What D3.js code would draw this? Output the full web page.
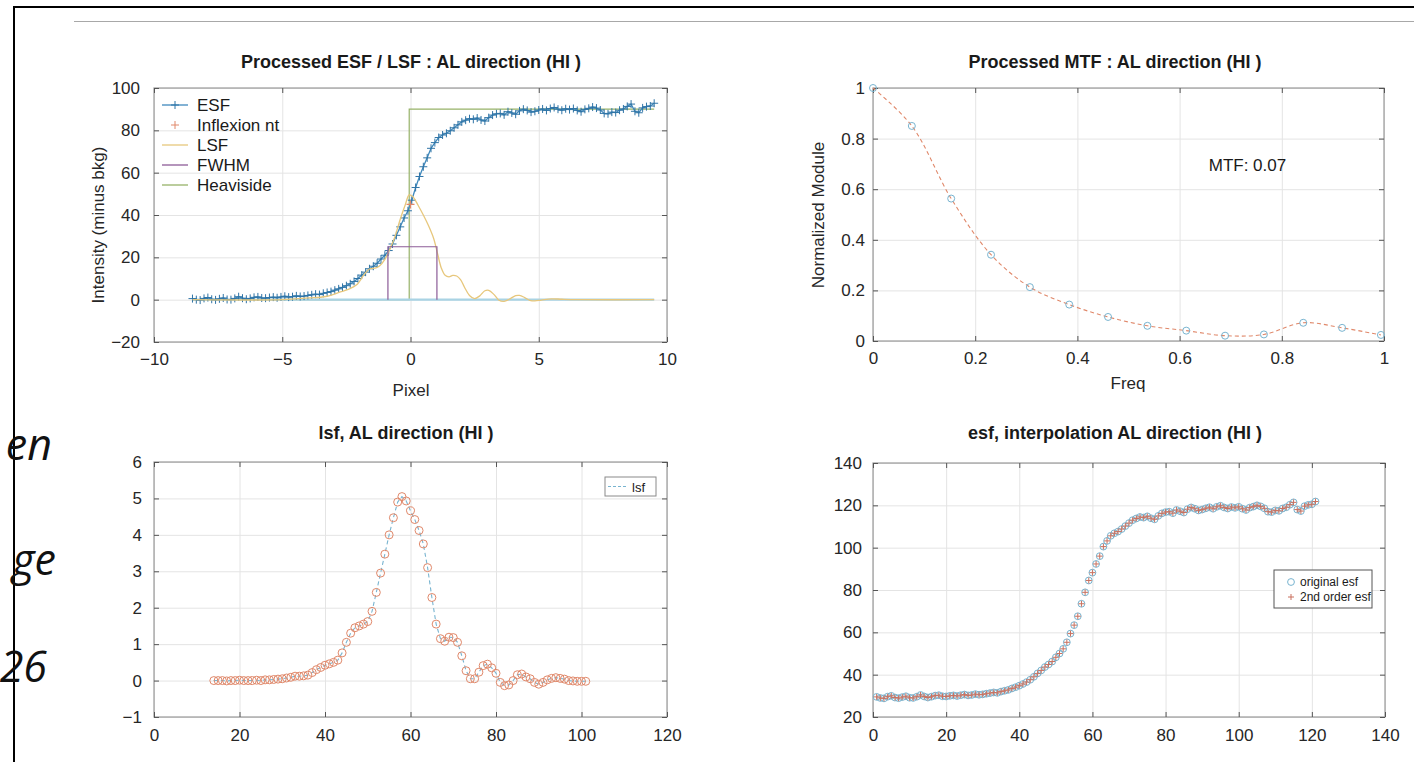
<!DOCTYPE html>
<html>
<head>
<meta charset="utf-8">
<script src="https://cdn.jsdelivr.net/npm/d3@7"></script>
<style>
  body { margin: 0; background: #fff; }
  svg { display: block; font-family: 'Liberation Sans', Arial, Helvetica, sans-serif; }
  .ticklabels text { fill: #262626; font-size: 17px; }
  .grid line { stroke: #e4e4e4; }
  .frameticks line { stroke: #555; }
  .title { font-size: 18px; font-weight: bold; fill: #1a1a1a; text-anchor: middle; }
  .axlabel { font-size: 17px; fill: #262626; text-anchor: middle; }
  .legend text { fill: #1a1a1a; }
  .side { font-family: 'Open Sans', sans-serif; font-style: italic; font-size: 43px; fill: #111; text-anchor: end; }
</style>
</head>
<body>
<svg id="fig" width="1414" height="762"></svg>
<script>
'use strict';
// Panel 1 : ESF in pixel units (sampled every 0.15 px from -8.5)
const esfPixelStart = -8.5
const esfPixelStep = 0.15
const esfMinusBkg = [
    0.5, 0.0, -0.2, 0.6, 1.0, 0.2, -0.1, 0.4, 0.8, 0.1,
    0.0, 0.6, 1.4, 0.7, 0.2, 0.6, 1.1, 1.3, 0.8, 0.7,
    1.0, 1.2, 0.9, 1.3, 1.6, 1.2, 1.4, 1.8, 1.5, 1.7,
    2.0, 2.3, 2.6, 2.4, 3.0, 3.4, 3.8, 4.5, 5.1, 5.8,
    6.6, 7.5, 8.6, 10.0, 11.6, 13.0, 14.6, 15.8, 17.2, 19.2,
    21.0, 23.2, 26.3, 30.4, 34.4, 38.6, 42.0, 47.0, 53.0, 58.2,
    62.8, 67.0, 71.5, 74.2, 76.6, 77.8, 78.6, 79.8, 81.2, 82.6,
    84.0, 84.8, 85.5, 85.2, 85.8, 84.9, 84.4, 86.0, 87.2, 87.8,
    88.0, 87.3, 88.8, 88.2, 87.6, 89.2, 90.0, 89.4, 88.6, 89.0,
    89.6, 90.1, 89.4, 90.3, 90.8, 90.0, 89.5, 90.2, 89.8, 90.3,
    89.4, 88.8, 89.9, 90.4, 91.0, 90.5, 89.6, 88.0, 87.8, 88.6,
    88.4, 89.5, 90.1, 91.3, 92.4, 89.0, 88.3, 90.6, 91.2, 91.5,
    92.8
]
const lsfPixelX = [-8.5, -5, -4, -3.3, -2.7, -2.4, -2.1, -1.8, -1.6, -1.35, -1.2, -1.0, -0.8, -0.6, -0.4, -0.2, -0.05,
    0.1, 0.3, 0.5, 0.7, 0.9, 1.05, 1.2, 1.35, 1.5, 1.65, 1.8, 1.95, 2.1, 2.3, 2.5, 2.7, 2.9, 3.05, 3.25, 3.45,
    3.65, 3.85, 4.1, 4.25, 4.45, 4.65, 4.85, 5.1, 5.5, 5.9, 6.5, 9.5]
const lsfPixelY = [0, 0, 0.8, 1.5, 3.8, 5, 7, 12, 14.5, 15, 16, 19, 24, 30, 38, 45, 49.5,
    48.5, 44.5, 40, 35, 29, 22, 15, 11.5, 10.8, 11.5, 11.2, 9.5, 6, 2, 0.5, 1.8, 4.2, 4.4, 2.5, -0.3,
    -0.8, 0.2, 1.9, 2.0, 1, -0.3, -0.6, -0.2, 0.4, 0.2, 0, 0]
const inflexion = [0, 45]
const fwhmX = [-0.88, -0.88, 1.03, 1.03]
const fwhmY = [0, 25, 25, 0]
const heavisideX = [-8.5, -0.05, -0.05, 9.5]
const heavisideY = [0, 0, 90, 90]
const zeroLineX = [-8.5, 9.5]
const esfLegend = ['ESF', 'Inflexion nt', 'LSF', 'FWHM', 'Heaviside']

// Panel 2 : MTF
const mtfFreq = [0, 0.076, 0.153, 0.231, 0.307, 0.384, 0.460, 0.537, 0.613, 0.689, 0.765, 0.842, 0.918, 0.994]
const mtfModule = [1.0, 0.85, 0.563, 0.341, 0.213, 0.144, 0.095, 0.060, 0.041, 0.021, 0.026, 0.072, 0.052, 0.024]
const mtfText = 'MTF: 0.07'

// Panel 3 : lsf samples 14..101
const lsfStart = 14
const lsfValues = [
    0.0, 0.0, 0.0, -0.01, 0.0, 0.0, 0.01, 0.0, 0.0, 0.0, 0.01, 0.0, 0.02, 0.02, 0.03, 0.04, 0.05,
    0.07, 0.09, 0.12, 0.12, 0.13, 0.15, 0.22, 0.3, 0.36, 0.42,
    0.46, 0.5, 0.56, 0.76, 1.05, 1.3, 1.45, 1.5, 1.55, 1.62,
    1.9, 2.42, 2.95, 3.47, 4.0, 4.47, 4.9, 5.05, 4.93, 4.66,
    4.42, 4.12, 3.75, 3.1, 2.28, 1.55, 1.15, 1.08, 1.19, 1.18,
    1.05, 0.68, 0.27, 0.05, 0.05, 0.23, 0.41, 0.45, 0.35, 0.2,
    -0.05, -0.14, -0.12, 0.0, 0.16, 0.18, 0.1, 0.05, -0.05, -0.1,
    -0.05, 0.02, 0.06, 0.08, 0.06, 0.04, 0.0, -0.01, -0.02, -0.02, -0.02
]

// Panel 4 : raw esf samples 1..121
const esfStart = 1
const esfValues = [
    29.5, 29.0, 28.8, 29.6, 30.0, 29.2, 28.9, 29.4, 29.8, 29.1,
    29.0, 29.6, 30.4, 29.7, 29.2, 29.6, 30.1, 30.3, 29.8, 29.7,
    30.0, 30.2, 29.9, 30.3, 30.6, 30.2, 30.4, 30.8, 30.5, 30.7,
    31.0, 31.3, 31.6, 31.4, 32.0, 32.4, 32.8, 33.5, 34.1, 34.8,
    35.6, 36.5, 37.6, 39.0, 40.6, 42.0, 43.6, 44.8, 46.2, 48.2,
    50.0, 52.2, 55.3, 59.4, 63.4, 67.6, 73.5, 78.9, 84.5, 88.2,
    92.3, 96.0, 100.5, 103.2, 105.6, 106.8, 107.6, 108.8, 110.2, 111.6,
    113.0, 113.8, 114.5, 114.2, 114.8, 113.9, 113.4, 115.0, 116.2, 116.8,
    117.0, 116.3, 117.8, 117.2, 116.6, 118.2, 119.0, 118.4, 117.6, 118.0,
    118.6, 119.1, 118.4, 119.3, 119.8, 119.0, 118.5, 119.2, 118.8, 119.3,
    118.4, 117.8, 118.9, 119.4, 120.0, 119.5, 118.6, 117.0, 116.8, 117.6,
    117.4, 118.5, 119.1, 120.3, 121.4, 118.0, 117.3, 119.6, 120.2, 120.5,
    121.8
]
const esfLegend2 = ['original esf', '2nd order esf']

// Clipped caption fragments on the left of the page
const sideWords = ['en', 'ge', '26']

// Colours (faded MATLAB palette)
const col = {
    blue: '#3f89bd', orange: '#e0886a', yellow: '#e7c77c', purple: '#8d5c98',
    green: '#97b268', cyan: '#a9d3e4', lightBlue: '#78b4d0', axis: '#9a9a9a'
}

const svg = d3.select('#fig')
const plus = 'M-4,0H4M0,-4V4'
const fmt = d3.format('~g')

// Page frame and rule
svg.append('line').attr('x1', 13).attr('x2', 1414).attr('y1', 7).attr('y2', 7)
    .attr('stroke', '#000').attr('stroke-width', 2)
svg.append('line').attr('x1', 14).attr('x2', 14).attr('y1', 7).attr('y2', 762)
    .attr('stroke', '#000').attr('stroke-width', 2)
svg.append('line').attr('x1', 74).attr('x2', 1414).attr('y1', 21.5).attr('y2', 21.5)
    .attr('stroke', '#a8a8a8').attr('stroke-width', 1)

// Side words
const sideY = [460, 575, 682]
const sideX = [52, 56, 47]
svg.selectAll('text.side').data(sideWords).join('text')
    .attr('class', 'side')
    .attr('x', (d, i) => sideX[i])
    .attr('y', (d, i) => sideY[i])
    .text(d => d)

function makePanel(box, xDom, yDom, xTicks, yTicks, padY) {
    const x = d3.scaleLinear().domain(xDom).range([box.left, box.right])
    const y = d3.scaleLinear().domain(yDom).range([box.bottom, box.top])
    const w = box.right - box.left
    const h = box.bottom - box.top
    const g = svg.append('g')

    // Grid
    g.append('g').attr('class', 'grid')
        .attr('transform', `translate(0,${box.bottom})`)
        .call(d3.axisBottom(x).tickValues(xTicks).tickSize(-h).tickFormat(''))
        .call(s => s.select('.domain').remove())
    g.append('g').attr('class', 'grid')
        .attr('transform', `translate(${box.left},0)`)
        .call(d3.axisLeft(y).tickValues(yTicks).tickSize(-w).tickFormat(''))
        .call(s => s.select('.domain').remove())

    // Box
    g.append('rect')
        .attr('x', box.left).attr('y', box.top)
        .attr('width', w).attr('height', h)
        .attr('fill', 'none').attr('stroke', col.axis).attr('stroke-width', 1.2)

    // Inward ticks on four sides
    const tk = [
        [d3.axisBottom(x).tickValues(xTicks), `translate(0,${box.bottom})`],
        [d3.axisTop(x).tickValues(xTicks), `translate(0,${box.top})`],
        [d3.axisLeft(y).tickValues(yTicks), `translate(${box.left},0)`],
        [d3.axisRight(y).tickValues(yTicks), `translate(${box.right},0)`]
    ]
    tk.forEach(([ax, tr]) => {
        g.append('g').attr('class', 'frameticks').attr('transform', tr)
            .call(ax.tickSizeInner(-5).tickSizeOuter(0).tickFormat(''))
            .call(s => s.select('.domain').remove())
    })

    // Tick labels
    g.append('g').attr('class', 'ticklabels')
        .attr('transform', `translate(0,${box.bottom})`)
        .call(d3.axisBottom(x).tickValues(xTicks).tickSize(0).tickPadding(box.padX).tickFormat(fmt))
        .call(s => s.select('.domain').remove())
    g.append('g').attr('class', 'ticklabels')
        .attr('transform', `translate(${box.left},0)`)
        .call(d3.axisLeft(y).tickValues(yTicks).tickSize(0).tickPadding(padY).tickFormat(fmt))
        .call(s => s.select('.domain').remove())

    return { g, x, y }
}

// ---------- Panel 1 : Processed ESF / LSF ----------
const p1 = makePanel({ left: 154, right: 667, top: 88, bottom: 342, padX: 11 },
    [-10, 10], [-20, 100], [-10, -5, 0, 5, 10], d3.range(-20, 101, 20), 14)
{
    const { g, x, y } = p1
    const esfPts = esfMinusBkg.map((v, i) => [esfPixelStart + i * esfPixelStep, v])
    const line = d3.line().x(d => x(d[0])).y(d => y(d[1]))

    // Heaviside
    g.append('path').datum(d3.zip(heavisideX, heavisideY))
        .attr('d', line).attr('fill', 'none').attr('stroke', col.green).attr('stroke-width', 1.2)
    // Zero baseline
    g.append('path').datum(zeroLineX.map(v => [v, 0]))
        .attr('d', line).attr('fill', 'none').attr('stroke', col.cyan).attr('stroke-width', 2.2)
    // ESF
    g.append('path').datum(esfPts)
        .attr('d', line).attr('fill', 'none').attr('stroke', col.blue).attr('stroke-width', 1.3)
    g.append('g').selectAll('path').data(esfPts).join('path')
        .attr('transform', d => `translate(${x(d[0])},${y(d[1])})`)
        .attr('d', plus).attr('stroke', '#2f74a6').attr('stroke-width', 1)
    // Inflexion point
    g.append('path')
        .attr('transform', `translate(${x(inflexion[0])},${y(inflexion[1])})`)
        .attr('d', plus).attr('stroke', col.orange).attr('stroke-width', 1.2)
    // LSF
    g.append('path').datum(d3.zip(lsfPixelX, lsfPixelY))
        .attr('d', line.curve(d3.curveCatmullRom)).attr('fill', 'none')
        .attr('stroke', col.yellow).attr('stroke-width', 1.3)
    line.curve(d3.curveLinear)
    // FWHM
    g.append('path').datum(d3.zip(fwhmX, fwhmY))
        .attr('d', line).attr('fill', 'none').attr('stroke', col.purple).attr('stroke-width', 1.2)

    // Legend
    const lg = g.append('g').attr('class', 'legend')
    const legCol = [col.blue, col.orange, col.yellow, col.purple, col.green]
    esfLegend.forEach((name, i) => {
        const ly = 105 + i * 20
        if (i !== 1) {
            lg.append('line').attr('x1', 162).attr('x2', 188).attr('y1', ly).attr('y2', ly)
                .attr('stroke', legCol[i]).attr('stroke-width', 1.3)
        }
        if (i <= 1) {
            lg.append('path').attr('transform', `translate(175,${ly})`).attr('d', plus)
                .attr('stroke', i === 0 ? '#2f74a6' : col.orange).attr('stroke-width', 1)
        }
        lg.append('text').attr('x', 197).attr('y', ly + 6).style('font-size', '17px').text(name)
    })

    svg.append('text').attr('class', 'title').attr('x', 411).attr('y', 68)
        .text('Processed ESF / LSF : AL direction (HI )')
    svg.append('text').attr('class', 'axlabel').attr('x', 411).attr('y', 396).text('Pixel')
    svg.append('text').attr('class', 'axlabel')
        .attr('transform', 'translate(104,225) rotate(-90)').text('Intensity (minus bkg)')
}

// ---------- Panel 2 : Processed MTF ----------
const p2 = makePanel({ left: 873, right: 1384, top: 88, bottom: 341, padX: 11 },
    [0, 1], [0, 1], d3.range(0, 1.01, 0.2), d3.range(0, 1.01, 0.2), 8)
{
    const { g, x, y } = p2
    const pts = d3.zip(mtfFreq, mtfModule)
    g.append('path').datum(pts)
        .attr('d', d3.line().x(d => x(d[0])).y(d => y(d[1])).curve(d3.curveCatmullRom))
        .attr('fill', 'none').attr('stroke', col.orange).attr('stroke-width', 1.1)
        .attr('stroke-dasharray', '4,3')
    g.append('g').selectAll('circle').data(pts).join('circle')
        .attr('cx', d => x(d[0])).attr('cy', d => y(d[1])).attr('r', 3.5)
        .attr('fill', 'none').attr('stroke', col.lightBlue).attr('stroke-width', 1)
    g.append('text').attr('x', x(0.657)).attr('y', y(0.67))
        .style('font-size', '17px').attr('fill', '#1a1a1a').text(mtfText)

    svg.append('text').attr('class', 'title').attr('x', 1115).attr('y', 68)
        .text('Processed MTF : AL direction (HI )')
    svg.append('text').attr('class', 'axlabel').attr('x', 1128).attr('y', 389).text('Freq')
    svg.append('text').attr('class', 'axlabel')
        .attr('transform', 'translate(824,215) rotate(-90)').text('Normalized Module')
}

// ---------- Panel 3 : lsf ----------
const p3 = makePanel({ left: 154, right: 667, top: 462, bottom: 717, padX: 12 },
    [0, 120], [-1, 6], d3.range(0, 121, 20), d3.range(-1, 7, 1), 12)
{
    const { g, x, y } = p3
    const pts = lsfValues.map((v, i) => [lsfStart + i, v])
    g.append('path').datum(pts)
        .attr('d', d3.line().x(d => x(d[0])).y(d => y(d[1])))
        .attr('fill', 'none').attr('stroke', col.lightBlue).attr('stroke-width', 1.1)
        .attr('stroke-dasharray', '4,3')
    g.append('g').selectAll('circle').data(pts).join('circle')
        .attr('cx', d => x(d[0])).attr('cy', d => y(d[1])).attr('r', 4)
        .attr('fill', 'none').attr('stroke', col.orange).attr('stroke-width', 1)

    const lg = g.append('g').attr('class', 'legend')
    lg.append('rect').attr('x', 605).attr('y', 477).attr('width', 51).attr('height', 19)
        .attr('fill', '#fff').attr('stroke', '#8a8a8a')
    lg.append('line').attr('x1', 608).attr('x2', 628).attr('y1', 486.5).attr('y2', 486.5)
        .attr('stroke', col.lightBlue).attr('stroke-width', 1.1).attr('stroke-dasharray', '3,2')
    lg.append('text').attr('x', 632).attr('y', 491.5).style('font-size', '13px').text('lsf')

    svg.append('text').attr('class', 'title').attr('x', 406).attr('y', 439)
        .text('lsf, AL direction (HI )')
}

// ---------- Panel 4 : esf interpolation ----------
const p4 = makePanel({ left: 873, right: 1385, top: 463, bottom: 717, padX: 12 },
    [0, 140], [20, 140], d3.range(0, 141, 20), d3.range(20, 141, 20), 11)
{
    const { g, x, y } = p4
    const pts = esfValues.map((v, i) => [esfStart + i, v])
    g.append('g').selectAll('circle').data(pts).join('circle')
        .attr('cx', d => x(d[0])).attr('cy', d => y(d[1])).attr('r', 3.4)
        .attr('fill', 'none').attr('stroke', col.lightBlue).attr('stroke-width', 1)
    g.append('g').selectAll('path').data(pts).join('path')
        .attr('transform', d => `translate(${x(d[0])},${y(d[1])})`)
        .attr('d', 'M-3,0H3M0,-3V3').attr('stroke', '#c9705e').attr('stroke-width', 1)

    const lg = g.append('g').attr('class', 'legend')
    lg.append('rect').attr('x', 1274).attr('y', 570).attr('width', 98).attr('height', 38)
        .attr('fill', '#fff').attr('stroke', '#555')
    lg.append('circle').attr('cx', 1291).attr('cy', 582).attr('r', 3.4)
        .attr('fill', 'none').attr('stroke', col.lightBlue)
    lg.append('path').attr('transform', 'translate(1291,597)').attr('d', 'M-3,0H3M0,-3V3')
        .attr('stroke', '#c9705e')
    esfLegend2.forEach((name, i) => {
        lg.append('text').attr('x', 1300).attr('y', 586 + i * 15)
            .style('font-size', '12px').text(name)
    })

    svg.append('text').attr('class', 'title').attr('x', 1115).attr('y', 439)
        .text('esf, interpolation AL direction (HI )')
}
</script>
</body>
</html>
